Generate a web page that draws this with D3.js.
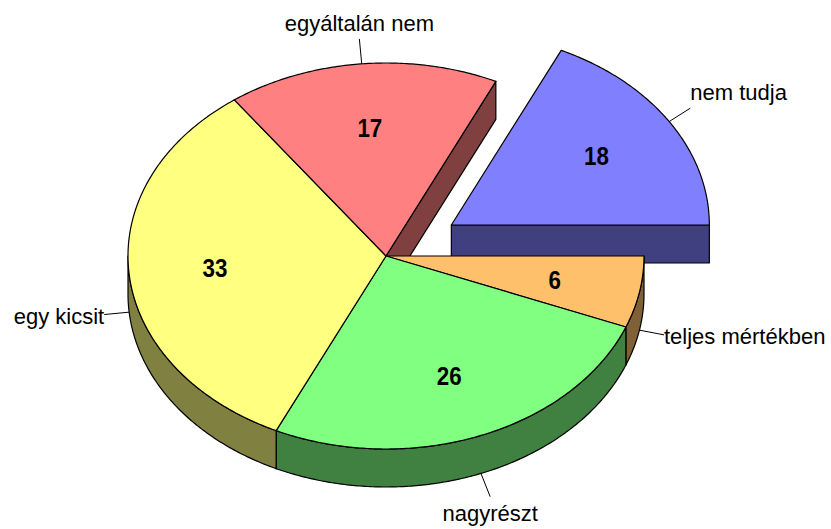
<!DOCTYPE html>
<html>
<head>
<meta charset="utf-8">
<script src="https://cdn.jsdelivr.net/npm/d3@7"></script>
<style>
  html, body { margin: 0; padding: 0; background: #fff; }
  text { font-family: "Liberation Sans", Arial, sans-serif; }
</style>
</head>
<body>
<div id="chart"></div>
<script>
const width = 831;
const height = 529;

// data (clockwise from 3 o'clock)
const categories = ["teljes mértékben", "nagyrészt", "egy kicsit", "egyáltalán nem", "nem tudja"];
const values = [6, 26, 33, 17, 18];
const topColors = ["#FFC06C", "#80FF80", "#FFFF80", "#FF8080", "#8080FF"];
const sideColors = ["#806036", "#408040", "#808040", "#804040", "#404080"];
const exploded = ["nem tudja"];

// geometry of the tilted pie
const cx = 386, cy = 256;
const rx = 258, ry = 193;
const depth = 38;
const explodeFrac = 0.30;
const startAngle = Math.PI / 2;

const svg = d3.select("#chart")
    .append("svg")
    .attr("width", width)
    .attr("height", height);

const pie = d3.pie()
    .sort(null)
    .value(d => d.value)
    .startAngle(startAngle)
    .endAngle(startAngle + 2 * Math.PI);

const slices = pie(categories.map((c, i) => ({ name: c, value: values[i], i: i })));

slices.forEach(s => {
    const mid = (s.startAngle + s.endAngle) / 2;
    const f = exploded.includes(s.data.name) ? explodeFrac : 0;
    s.ox = Math.sin(mid) * f * rx;
    s.oy = -Math.cos(mid) * f * ry;
    s.mid = mid;
});

// point on the ellipse at angle t, lowered by z
function pt(s, t, z, k = 1) {
    return [cx + s.ox + k * rx * Math.sin(t), cy + s.oy - k * ry * Math.cos(t) + z];
}

function arcPts(s, a, b, z) {
    const n = Math.max(2, Math.ceil(Math.abs(b - a) / 0.01));
    return d3.range(n + 1).map(j => pt(s, a + (b - a) * j / n, z));
}

const line = d3.line();

function topPath(s) {
    return line([pt(s, 0, 0, 0)].concat(arcPts(s, s.startAngle, s.endAngle, 0))) + "Z";
}

function facePath(s, t) {
    return line([pt(s, t, 0, 0), pt(s, t, 0), pt(s, t, depth), pt(s, t, depth, 0)]) + "Z";
}

function wallPath(s) {
    // front half only: angles between 90 and 270 degrees (mod 360)
    const segs = [];
    for (let k = -1; k <= 1; k++) {
        const lo = Math.PI / 2 + k * 2 * Math.PI, hi = 3 * Math.PI / 2 + k * 2 * Math.PI;
        const a = Math.max(s.startAngle, lo), b = Math.min(s.endAngle, hi);
        if (b - a > 0.001) segs.push([a, b]);
    }
    return segs.map(([a, b]) =>
        line(arcPts(s, a, b, 0).concat(arcPts(s, b, a, depth))) + "Z").join("");
}

function drawSides(group, list) {
    list.forEach(s => {
        if (Math.sin(s.startAngle) < -0.001)
            group.append("path").attr("d", facePath(s, s.startAngle)).attr("fill", sideColors[s.data.i]);
        if (Math.sin(s.endAngle) > 0.001)
            group.append("path").attr("d", facePath(s, s.endAngle)).attr("fill", sideColors[s.data.i]);
    });
    list.forEach(s => {
        const d = wallPath(s);
        if (d) group.append("path").attr("d", d).attr("fill", sideColors[s.data.i]);
    });
}

function drawTops(group, list) {
    group.selectAll(null)
        .data(list)
        .enter()
        .append("path")
        .attr("d", topPath)
        .attr("fill", d => topColors[d.data.i]);
}

const g = svg.append("g")
    .attr("stroke", "#000")
    .attr("stroke-width", 1.2)
    .attr("stroke-linejoin", "round");

// exploded slices sit behind, draw them first
const outSlices = slices.filter(s => exploded.includes(s.data.name));
const inSlices = slices.filter(s => !exploded.includes(s.data.name));

drawSides(g, outSlices);
drawTops(g, outSlices);
drawSides(g, inSlices);
drawTops(g, inSlices);

// value labels (slightly condensed bold digits)
svg.selectAll(".val")
    .data(slices)
    .enter()
    .append("text")
    .attr("class", "val")
    .attr("transform", d => {
        const p = pt(d, d.mid, 0, 0.666);
        return `translate(${p[0]},${p[1]}) scale(0.86,1)`;
    })
    .attr("dy", "0.35em")
    .attr("text-anchor", "middle")
    .attr("font-size", 26)
    .attr("font-weight", "bold")
    .text(d => d.data.value);

// category labels with leader lines
slices.forEach(s => {
    const ux = Math.sin(s.mid), uy = -Math.cos(s.mid);
    const front = Math.cos(s.mid) < 0;
    const p0 = pt(s, s.mid, front ? depth : 0);
    const p1 = [p0[0] + ux * 25, p0[1] + uy * 25];

    svg.append("line")
        .attr("x1", p0[0]).attr("y1", p0[1])
        .attr("x2", p1[0]).attr("y2", p1[1])
        .attr("stroke", "#000")
        .attr("stroke-width", 1);

    const anchor = ux > 0.5 ? "start" : ux < -0.5 ? "end" : "middle";
    const by = uy < -0.3 ? p1[1] - 8 : uy > 0.3 ? p1[1] + 24 : p1[1] + 9;

    svg.append("text")
        .attr("x", p1[0])
        .attr("y", by)
        .attr("text-anchor", anchor)
        .attr("font-size", 22)
        .text(s.data.name);
});
</script>
</body>
</html>
